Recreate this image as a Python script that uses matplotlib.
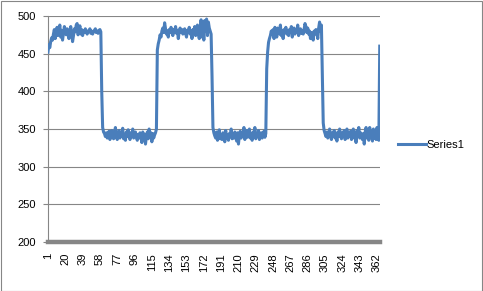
import matplotlib
matplotlib.use("Agg")
import matplotlib.pyplot as plt
from matplotlib.patches import Rectangle

series_name = "Series1"

high1 = [
    452, 462, 458, 466, 471, 468, 476, 482, 470, 479,
    485, 474, 480, 488, 472, 481, 468, 477, 486, 480,
    475, 483, 478, 470, 481, 486, 477, 466, 474, 483,
    479, 488, 490, 475, 480, 487, 476, 482, 474, 480,
    478, 483, 480, 476, 479, 481, 483, 477, 480, 476,
    479, 481, 483, 478, 480, 477, 481, 482, 479,
]
low1 = [
    400, 352, 346, 344, 340, 345, 338, 342, 347, 336,
    343, 348, 340, 337, 345, 352, 340, 336, 343, 348,
    338, 344, 340, 351, 337, 342, 335, 346, 340, 349,
    342, 336, 345, 340, 350, 338, 343, 346, 339, 335,
    343, 338, 345, 340, 332, 346, 337, 343, 330, 340,
    346, 337, 350, 341, 345, 333, 344, 338, 342, 345,
]
high2 = [
    350, 455, 463, 468, 475, 472, 480, 484, 478, 491,
    483, 476, 480, 472, 482, 478, 485, 480, 474, 482,
    479, 486, 477, 481, 470, 480, 484, 478, 482, 476,
    480, 483, 477, 472, 481, 479, 485, 476, 480, 470,
    482, 478, 486, 474, 480, 488, 476, 470, 484, 495,
    472, 490, 468, 494, 480, 496, 474, 492, 484, 480,
    476,
]
low2 = [
    420, 352, 345, 341, 338, 346, 335, 343, 349, 337,
    342, 336, 345, 340, 333, 348, 338, 342, 335, 344,
    340, 350, 337, 343, 338, 346, 340, 334, 345, 330,
    342, 347, 338, 344, 340, 352, 336, 343, 348, 339,
    345, 350, 338, 342, 335, 346, 340, 352, 337, 344,
    340, 348, 336, 343, 345, 338, 341, 347, 339, 344,
]
high3 = [
    430, 452, 465, 470, 474, 480, 476, 482, 470, 485,
    478, 472, 484, 480, 476, 488, 474, 480, 470, 482,
    478, 485, 476, 480, 474, 482, 479, 486, 472, 480,
    484, 476, 482, 478, 488, 474, 480, 483, 477, 481,
    476, 482, 490, 486, 478, 484, 476, 480, 470, 478,
    472, 468, 480, 476, 482, 478, 470, 484, 492, 480,
    488,
]
low3 = [
    420, 358, 348, 344, 340, 346, 338, 343, 350, 341,
    336, 345, 340, 348, 338, 343, 334, 346, 340, 350,
    342, 337, 345, 340, 348, 336, 343, 350, 338, 345,
    340, 347, 336, 343, 350, 338, 345, 332, 348, 340,
    352, 338, 345, 340, 336, 344, 330, 346, 352, 338,
    348, 335, 352, 340, 346, 334, 350, 338, 345, 336,
    352, 338, 335,
]
tail = [460]

values = high1 + low1 + high2 + low2 + high3 + low3 + tail
categories = list(range(1, len(values) + 1))
x_tick_labels = [1, 20, 39, 58, 77, 96, 115, 134, 153, 172, 191, 210,
                 229, 248, 267, 286, 305, 324, 343, 362]
y_ticks = [200, 250, 300, 350, 400, 450, 500]

W, H = 483, 291
fig = plt.figure(figsize=(W / 100, H / 100), dpi=100)
plt.rcParams['font.family'] = ['Liberation Sans', 'DejaVu Sans']

L, R = 47.5, 380.2
T, B = 16, 242
ax = fig.add_axes([L / W, 1 - B / H, (R - L) / W, (B - T) / H])

grid_c = '#868686'
for yv in y_ticks[1:]:
    ax.axhline(yv, color=grid_c, lw=0.8, zorder=1)
ax.axhline(200, color=grid_c, lw=3.2, zorder=1, clip_on=False)

line, = ax.plot(categories, values, color='#4A7EBB', lw=2.2, zorder=3,
                solid_joinstyle='round', label=series_name)

ax.set_xlim(0.5, len(values) + 0.5)
ax.set_ylim(200, 500)
ax.set_yticks(y_ticks)
ax.set_yticklabels([str(v) for v in y_ticks], fontsize=8)
ax.set_xticks(x_tick_labels)
ax.set_xticklabels([str(v) for v in x_tick_labels], rotation=90, fontsize=8)
ax.tick_params(axis='y', length=3.5, color=grid_c, width=0.8, pad=5)
ax.tick_params(axis='x', length=0, pad=8)

for s in ['top', 'right', 'bottom']:
    ax.spines[s].set_visible(False)
ax.spines['left'].set_color(grid_c)
ax.spines['left'].set_linewidth(0.8)
ax.patch.set_alpha(0)

fig.legend(handles=[line], labels=[series_name], loc='center left',
           bbox_to_anchor=(398 / W, 1 - 145 / H), frameon=False,
           fontsize=8, handlelength=2.5, handletextpad=0.1,
           borderaxespad=0, borderpad=0)

fig.patches.append(Rectangle((0.5 / W, 0.5 / H), (W - 1.5) / W, (H - 1.5) / H,
                             transform=fig.transFigure, fill=False,
                             edgecolor=grid_c, lw=0.8))

fig.savefig('out.png', dpi=100)
